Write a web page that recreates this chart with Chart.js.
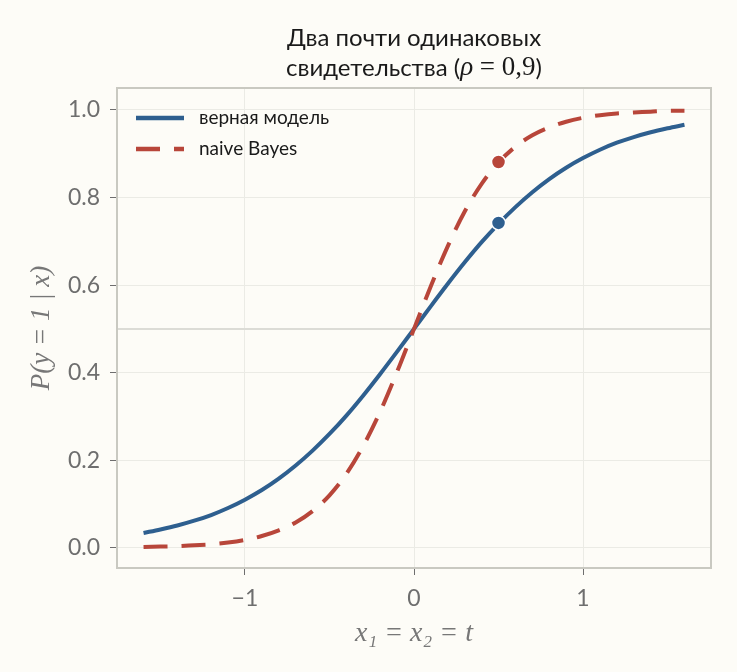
<!DOCTYPE html>
<html><head><meta charset="utf-8">
<script src="https://cdn.jsdelivr.net/npm/chart.js@4"></script>
<style>html,body{margin:0;padding:0;background:#fdfcf7;}#wrap{width:737px;height:672px;}</style>
</head><body><div id="wrap"><canvas id="c" width="737" height="672"></canvas></div>
<script>
const tValues = [-1.6,-1.5,-1.4,-1.3,-1.2,-1.1,-1.0,-0.9,-0.8,-0.7,-0.6,-0.5,-0.4,-0.3,-0.2,-0.1,0.0,0.1,0.2,0.3,0.4,0.5,0.6,0.7,0.8,0.9,1.0,1.1,1.2,1.3,1.4,1.5,1.6];
const trueModel = [0.034,0.042,0.051,0.062,0.075,0.091,0.110,0.132,0.158,0.188,0.222,0.260,0.302,0.348,0.397,0.448,0.500,0.552,0.603,0.652,0.698,0.740,0.778,0.812,0.842,0.868,0.890,0.909,0.925,0.938,0.949,0.958,0.966];
const naiveBayes = [0.002,0.003,0.004,0.006,0.008,0.012,0.018,0.027,0.040,0.058,0.084,0.120,0.169,0.233,0.311,0.402,0.500,0.598,0.689,0.768,0.831,0.880,0.916,0.942,0.960,0.973,0.982,0.988,0.992,0.994,0.996,0.998,0.998];
const markerT = 0.5;
const markerTrue = 0.742;
const markerNaive = 0.881;
const xTicks = [-1, 0, 1];
const yTicks = [0.0, 0.2, 0.4, 0.6, 0.8, 1.0];
const seriesNames = ['верная модель', 'naive Bayes'];
const titleLine1 = 'Два почти одинаковых';
const titleLine2 = ['свидетельства (', 'ρ', ' = 0,9', ')'];

const BLUE = '#2e5f8f', RED = '#b8463a';
const GRID = '#ebebe5', FRAME = '#c9c9c1', TICKC = '#6e6e6e';
const FONT = 'Lato, "Open Sans", sans-serif';
const SERIF = '"Liberation Serif", "DejaVu Serif", serif';

const frameAndExtras = {
  id: 'extras',
  beforeDatasetsDraw(chart) {
    const {ctx, chartArea: a, scales: {y}} = chart;
    ctx.save();
    ctx.strokeStyle = '#dcdcd6';
    ctx.lineWidth = 2;
    const yp = y.getPixelForValue(0.5);
    ctx.beginPath(); ctx.moveTo(a.left, yp); ctx.lineTo(a.right, yp); ctx.stroke();
    ctx.restore();
  },
  afterDraw(chart) {
    const {ctx, chartArea: a} = chart;
    ctx.save();
    ctx.strokeStyle = FRAME; ctx.lineWidth = 2;
    ctx.strokeRect(a.left, a.top, a.right - a.left, a.bottom - a.top);
    // title
    ctx.fillStyle = '#1a1a1a';
    ctx.textBaseline = 'middle';
    const cx = (a.left + a.right) / 2;
    ctx.font = '24px ' + FONT;
    ctx.textAlign = 'center';
    ctx.fillText(titleLine1, cx, 38);
    const fonts = ['24px ' + FONT, 'italic 27px ' + SERIF, '27px ' + SERIF, '24px ' + FONT];
    let widths = titleLine2.map((s, i) => { ctx.font = fonts[i]; return ctx.measureText(s).width; });
    let x = cx - widths.reduce((p, q) => p + q, 0) / 2;
    ctx.textAlign = 'left';
    titleLine2.forEach((s, i) => { ctx.font = fonts[i]; ctx.fillText(s, x, 68); x += widths[i]; });
    // legend
    const ds = chart.data.datasets;
    const rows = [118, 149];
    for (let i = 0; i < 2; i++) {
      ctx.save();
      ctx.strokeStyle = ds[i].borderColor;
      ctx.lineWidth = 4.5;
      ctx.setLineDash(ds[i].borderDash || []);
      ctx.beginPath(); ctx.moveTo(136, rows[i]); ctx.lineTo(184, rows[i]); ctx.stroke();
      ctx.restore();
      ctx.fillStyle = '#1a1a1a';
      ctx.font = '19px ' + FONT;
      ctx.textAlign = 'left'; ctx.textBaseline = 'middle';
      ctx.fillText(ds[i].label, 199, rows[i]);
    }
    ctx.restore();
  }
};

new Chart(document.getElementById('c'), {
  type: 'line',
  data: {
    datasets: [
      {label: seriesNames[0], data: tValues.map((t, i) => ({x: t, y: trueModel[i]})),
       borderColor: BLUE, borderWidth: 4, pointRadius: 0, cubicInterpolationMode: 'monotone', fill: false, order: 2},
      {label: seriesNames[1], data: tValues.map((t, i) => ({x: t, y: naiveBayes[i]})),
       borderColor: RED, borderWidth: 4, borderDash: [24, 14], pointRadius: 0, cubicInterpolationMode: 'monotone', fill: false, order: 1},
      {label: 'm1', data: [{x: markerT, y: markerTrue}], showLine: false, pointRadius: 7, pointBackgroundColor: BLUE, pointBorderColor: '#ffffff', pointBorderWidth: 1.5, order: 0},
      {label: 'm2', data: [{x: markerT, y: markerNaive}], showLine: false, pointRadius: 7, pointBackgroundColor: RED, pointBorderColor: '#ffffff', pointBorderWidth: 1.5, order: 0}
    ]
  },
  options: {
    responsive: false, animation: false, devicePixelRatio: 1,
    layout: {padding: {top: 88, right: 26, left: 22, bottom: 18}},
    plugins: {legend: {display: false}, title: {display: false}, tooltip: {enabled: false}},
    scales: {
      x: {
        type: 'linear', min: -1.757, max: 1.757,
        afterBuildTicks: s => { s.ticks = xTicks.map(v => ({value: v})); },
        afterFit: s => { s.height = 86; },
        grid: {color: GRID, lineWidth: 1, tickColor: TICKC, tickLength: 7, drawOnChartArea: true},
        border: {display: false},
        ticks: {color: '#6e6e6e', font: {size: 23, family: FONT}, padding: 10,
                callback: v => v < 0 ? '\u2212' + Math.abs(v) : String(v)},
        title: {display: true, text: 'x\u2081 = x\u2082 = t', color: '#777', font: {size: 28, family: SERIF, style: 'italic'}, padding: {top: 4}}
      },
      y: {
        type: 'linear', min: -0.046, max: 1.05,
        afterBuildTicks: s => { s.ticks = yTicks.map(v => ({value: v})); },
        afterFit: s => { s.width = 95; },
        grid: {color: GRID, lineWidth: 1, tickColor: TICKC, tickLength: 7},
        border: {display: false},
        ticks: {color: '#6e6e6e', font: {size: 23, family: FONT}, padding: 10, callback: v => v.toFixed(1)},
        title: {display: true, text: 'P(y = 1 | x)', color: '#777', font: {size: 27, family: SERIF, style: 'italic'}, padding: {bottom: 6}}
      }
    }
  },
  plugins: [frameAndExtras]
});
</script></body></html>
